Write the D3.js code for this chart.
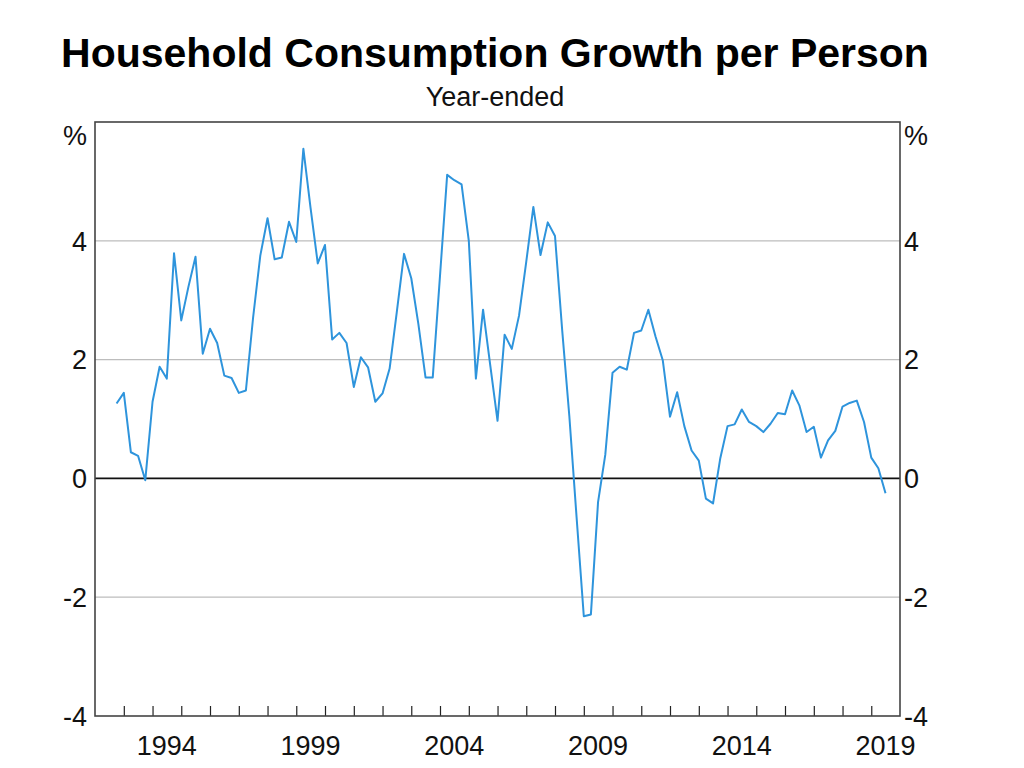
<!DOCTYPE html>
<html>
<head>
<meta charset="utf-8">
<script src="https://cdn.jsdelivr.net/npm/d3@7"></script>
<style>
  html, body { margin: 0; padding: 0; background: #fff; }
  svg { display: block; font-family: "Liberation Sans", Arial, sans-serif; }
</style>
</head>
<body>
<svg id="chart" width="1024" height="768"></svg>
<script>
// ---- Data ----
const quarters = [
  "1992-09","1992-12",
  "1993-03","1993-06","1993-09","1993-12",
  "1994-03","1994-06","1994-09","1994-12",
  "1995-03","1995-06","1995-09","1995-12",
  "1996-03","1996-06","1996-09","1996-12",
  "1997-03","1997-06","1997-09","1997-12",
  "1998-03","1998-06","1998-09","1998-12",
  "1999-03","1999-06","1999-09","1999-12",
  "2000-03","2000-06","2000-09","2000-12",
  "2001-03","2001-06","2001-09","2001-12",
  "2002-03","2002-06","2002-09","2002-12",
  "2003-03","2003-06","2003-09","2003-12",
  "2004-03","2004-06","2004-09","2004-12",
  "2005-03","2005-06","2005-09","2005-12",
  "2006-03","2006-06","2006-09","2006-12",
  "2007-03","2007-06","2007-09","2007-12",
  "2008-03","2008-06","2008-09","2008-12",
  "2009-03","2009-06","2009-09","2009-12",
  "2010-03","2010-06","2010-09","2010-12",
  "2011-03","2011-06","2011-09","2011-12",
  "2012-03","2012-06","2012-09","2012-12",
  "2013-03","2013-06","2013-09","2013-12",
  "2014-03","2014-06","2014-09","2014-12",
  "2015-03","2015-06","2015-09","2015-12",
  "2016-03","2016-06","2016-09","2016-12",
  "2017-03","2017-06","2017-09","2017-12",
  "2018-03","2018-06","2018-09","2018-12",
  "2019-03","2019-06"
];
const growth = [
  1.26, 1.44,
  0.44, 0.38, -0.03, 1.29,
  1.88, 1.68, 3.79, 2.66,
  3.22, 3.73, 2.10, 2.52,
  2.28, 1.73, 1.69, 1.44,
  1.48, 2.70, 3.75, 4.38,
  3.69, 3.72, 4.32, 3.98,
  5.55, 4.56, 3.62, 3.93,
  2.34, 2.45, 2.28, 1.54,
  2.04, 1.87, 1.29, 1.43,
  1.85, 2.80, 3.78, 3.37,
  2.60, 1.70, 1.70, 3.41,
  5.11, 5.02, 4.95, 4.00,
  1.68, 2.84, 1.90, 0.97,
  2.42, 2.18, 2.74, 3.65,
  4.57, 3.76, 4.31, 4.08,
  2.50, 1.05, -0.65, -2.32,
  -2.29, -0.40, 0.40, 1.78,
  1.88, 1.83, 2.45, 2.49,
  2.84, 2.39, 1.99, 1.04,
  1.45, 0.88, 0.47, 0.30,
  -0.34, -0.42, 0.34, 0.88,
  0.91, 1.16, 0.95, 0.88,
  0.78, 0.92, 1.10, 1.08,
  1.48, 1.23, 0.78, 0.87,
  0.35, 0.64, 0.80, 1.21,
  1.27, 1.31, 0.95, 0.35,
  0.17, -0.25
];
const yTicks = [-4, -2, 0, 2, 4];
const yGrid = [-2, 2, 4];
const yearLabels = [1994, 1999, 2004, 2009, 2014, 2019];
const title = "Household Consumption Growth per Person";
const subtitle = "Year-ended";
const unit = "%";

// ---- Layout ----
const L = 95, R = 900, T = 122, B = 716;
const svg = d3.select("#chart");
const parse = d3.timeParse("%Y-%m");
const data = quarters.map((q, i) => ({ date: d3.timeMonth.offset(parse(q), 1), v: growth[i] }));

const x = d3.scaleTime()
  .domain([new Date(1992, 0, 1), new Date(2020, 0, 1)])
  .range([L, R]);
const y = d3.scaleLinear().domain([-4, 6]).range([B, T]);

// gridlines
svg.append("g").selectAll("line").data(yGrid).join("line")
  .attr("x1", L).attr("x2", R)
  .attr("y1", d => y(d)).attr("y2", d => y(d))
  .attr("stroke", "#bdbdbd").attr("stroke-width", 1.2);

// zero line
svg.append("line")
  .attr("x1", L).attr("x2", R).attr("y1", y(0)).attr("y2", y(0))
  .attr("stroke", "#111").attr("stroke-width", 1.6);

// x ticks (inward, year starts)
const yearStarts = d3.timeYear.range(new Date(1993, 0, 1), new Date(2020, 0, 1));
const xAxis = d3.axisBottom(x).tickValues(yearStarts).tickSize(-10).tickFormat("");
const gx = svg.append("g").attr("transform", `translate(0,${B})`).call(xAxis);
gx.select(".domain").remove();
gx.selectAll(".tick line").attr("stroke", "#222").attr("stroke-width", 1.2);

// year labels, centred mid-year
svg.append("g").selectAll("text").data(yearLabels).join("text")
  .attr("x", d => x(new Date(d, 6, 1)))
  .attr("y", 755)
  .attr("text-anchor", "middle")
  .attr("font-size", 27)
  .attr("fill", "#111")
  .text(d => d);

// frame
svg.append("rect")
  .attr("x", L).attr("y", T).attr("width", R - L).attr("height", B - T)
  .attr("fill", "none").attr("stroke", "#444").attr("stroke-width", 1.6);

// line
const line = d3.line().x(d => x(d.date)).y(d => y(d.v));
svg.append("path").datum(data)
  .attr("d", line)
  .attr("fill", "none")
  .attr("stroke", "#2e94dc")
  .attr("stroke-width", 2)
  .attr("stroke-linejoin", "round");

// y labels left and right
const yl = svg.append("g").attr("font-size", 27).attr("fill", "#111");
yl.selectAll("text.l").data(yTicks).join("text").attr("class", "l")
  .attr("x", 87).attr("y", d => y(d)).attr("dy", "0.36em")
  .attr("text-anchor", "end").text(d => d);
yl.selectAll("text.r").data(yTicks).join("text").attr("class", "r")
  .attr("x", 904).attr("y", d => y(d)).attr("dy", "0.36em")
  .attr("text-anchor", "start").text(d => d);
yl.append("text").attr("x", 87).attr("y", 145).attr("text-anchor", "end").text(unit);
yl.append("text").attr("x", 904).attr("y", 145).attr("text-anchor", "start").text(unit);

// titles
svg.append("text").attr("x", 495).attr("y", 67)
  .attr("text-anchor", "middle").attr("font-size", 41).attr("font-weight", "bold")
  .attr("fill", "#000").text(title);
svg.append("text").attr("x", 495).attr("y", 106)
  .attr("text-anchor", "middle").attr("font-size", 27)
  .attr("fill", "#111").text(subtitle);
</script>
</body>
</html>
